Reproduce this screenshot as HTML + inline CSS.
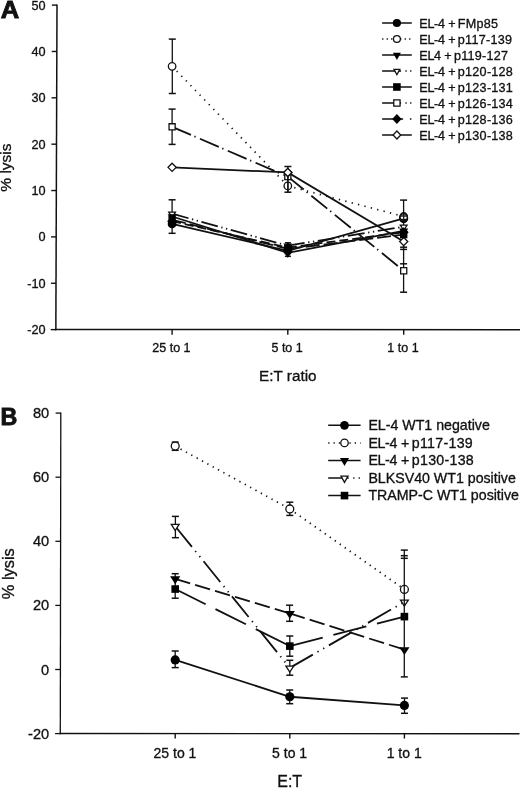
<!DOCTYPE html>
<html><head><meta charset="utf-8"><title>Figure</title>
<style>
html,body{margin:0;padding:0;background:#fff;}
body{width:520px;height:789px;overflow:hidden;}
svg{display:block;filter:grayscale(1);}
svg text{font-family:"Liberation Sans", sans-serif;fill:#111;stroke:#111;stroke-width:0.32px;}
</style></head><body>
<svg width="520" height="789" viewBox="0 0 520 789">
<rect width="520" height="789" fill="#fff"/>
<g stroke="#111" fill="none">
<line x1="57" y1="4.4" x2="55.85" y2="330.3" stroke-width="1.5"/>
<line x1="55.15" y1="329.4" x2="520" y2="329.85" stroke-width="1.5"/>
<line x1="50.75" y1="329.62" x2="55.85" y2="329.62" stroke-width="1.4"/>
<text x="45.5" y="334.02" font-size="12.7" text-anchor="end">-20</text>
<line x1="50.92" y1="283.26" x2="56.02" y2="283.26" stroke-width="1.4"/>
<text x="45.5" y="287.66" font-size="12.7" text-anchor="end">-10</text>
<line x1="51.08" y1="236.9" x2="56.18" y2="236.9" stroke-width="1.4"/>
<text x="45.5" y="241.3" font-size="12.7" text-anchor="end">0</text>
<line x1="51.24" y1="190.54" x2="56.34" y2="190.54" stroke-width="1.4"/>
<text x="45.5" y="194.94" font-size="12.7" text-anchor="end">10</text>
<line x1="51.41" y1="144.18" x2="56.51" y2="144.18" stroke-width="1.4"/>
<text x="45.5" y="148.58" font-size="12.7" text-anchor="end">20</text>
<line x1="51.57" y1="97.82" x2="56.67" y2="97.82" stroke-width="1.4"/>
<text x="45.5" y="102.22" font-size="12.7" text-anchor="end">30</text>
<line x1="51.73" y1="51.46" x2="56.83" y2="51.46" stroke-width="1.4"/>
<text x="45.5" y="55.86" font-size="12.7" text-anchor="end">40</text>
<line x1="51.9" y1="5.1" x2="57" y2="5.1" stroke-width="1.4"/>
<text x="45.5" y="9.5" font-size="12.7" text-anchor="end">50</text>
<line x1="172.1" y1="329.6" x2="172.1" y2="334.7" stroke-width="1.4"/>
<line x1="287.8" y1="329.6" x2="287.8" y2="334.7" stroke-width="1.4"/>
<line x1="403.7" y1="329.6" x2="403.7" y2="334.7" stroke-width="1.4"/>
<text x="171.4" y="351.9" font-size="12.5" text-anchor="middle">25 to 1</text>
<text x="287.1" y="351.9" font-size="12.5" text-anchor="middle">5 to 1</text>
<text x="403" y="351.9" font-size="12.5" text-anchor="middle">1 to 1</text>
<text x="287.8" y="380.7" font-size="15.3" text-anchor="middle">E:T ratio</text>
<text x="11.4" y="167.6" font-size="15.5" text-anchor="middle" transform="rotate(-90 11.4 167.6)">% lysis</text>
<text x="0" y="0" font-size="24.6" font-weight="bold" style="stroke-width:0.9px" transform="translate(0.8 18.3) scale(1.04 1)">A</text>
<line x1="172.1" y1="66.3" x2="287.8" y2="185.9" stroke-width="1.7" stroke-dasharray="1.3 5.3"/>
<line x1="287.8" y1="185.9" x2="403.7" y2="216.5" stroke-width="1.7" stroke-dasharray="1.3 5.3"/>
<line x1="172.1" y1="126.8" x2="287.8" y2="176.63" stroke-width="1.8" stroke-dasharray="20.5 3.8 1.3 4.7"/>
<line x1="287.8" y1="176.63" x2="403.7" y2="270.74" stroke-width="1.8" stroke-dasharray="20.5 3.8 1.3 4.7"/>
<polyline points="172.1,167.36 287.8,172.46 403.7,241.54" fill="none" stroke-width="1.8"/>
<polyline points="172.1,223.92 287.8,250.81 403.7,218.36" fill="none" stroke-width="1.8"/>
<polyline points="172.1,216.5 287.8,252.89 403.7,230.87" fill="none" stroke-width="1.8"/>
<line x1="172.1" y1="213.72" x2="287.8" y2="245.71" stroke-width="1.8" stroke-dasharray="17 3.6 1.3 3.6 1.3 3.6"/>
<line x1="287.8" y1="245.71" x2="403.7" y2="226.7" stroke-width="1.8" stroke-dasharray="17 3.6 1.3 3.6 1.3 3.6"/>
<line x1="172.1" y1="219.75" x2="287.8" y2="248.95" stroke-width="1.8" stroke-dasharray="14 4"/>
<line x1="287.8" y1="248.95" x2="403.7" y2="234.58" stroke-width="1.8" stroke-dasharray="14 4"/>
<line x1="172.1" y1="221.14" x2="287.8" y2="247.56" stroke-width="1.8" stroke-dasharray="9 4"/>
<line x1="287.8" y1="247.56" x2="403.7" y2="232.26" stroke-width="1.8" stroke-dasharray="9 4"/>
<line x1="172.3" y1="39.1" x2="172.3" y2="93.5" stroke-width="1.3"/>
<line x1="168.8" y1="39.1" x2="175.8" y2="39.1" stroke-width="1.5"/>
<line x1="168.8" y1="93.5" x2="175.8" y2="93.5" stroke-width="1.5"/>
<line x1="172.1" y1="109.1" x2="172.1" y2="144.4" stroke-width="1.3"/>
<line x1="168.6" y1="109.1" x2="175.6" y2="109.1" stroke-width="1.5"/>
<line x1="168.6" y1="144.4" x2="175.6" y2="144.4" stroke-width="1.5"/>
<line x1="172.1" y1="199.8" x2="172.1" y2="233.3" stroke-width="1.3"/>
<line x1="168.6" y1="199.8" x2="175.6" y2="199.8" stroke-width="1.5"/>
<line x1="168.6" y1="233.3" x2="175.6" y2="233.3" stroke-width="1.5"/>
<line x1="287.9" y1="242.8" x2="287.9" y2="256.3" stroke-width="1.3"/>
<line x1="284.9" y1="242.8" x2="290.9" y2="242.8" stroke-width="1.5"/>
<line x1="284.9" y1="256.3" x2="290.9" y2="256.3" stroke-width="1.5"/>
<line x1="403.6" y1="200.1" x2="403.6" y2="292.2" stroke-width="1.3"/>
<line x1="400.1" y1="200.1" x2="407.1" y2="200.1" stroke-width="1.5"/>
<line x1="400.1" y1="292.2" x2="407.1" y2="292.2" stroke-width="1.5"/>
<line x1="400.1" y1="247.2" x2="407.1" y2="247.2" stroke-width="1.5"/>
<line x1="400.1" y1="249.4" x2="407.1" y2="249.4" stroke-width="1.5"/>
<line x1="400.1" y1="263.8" x2="407.1" y2="263.8" stroke-width="1.5"/>
<polygon points="169.05,123.75 175.15,123.75 175.15,129.84 169.05,129.84" fill="#fff" stroke-width="1.3" stroke-miterlimit="10"/>
<polygon points="284.75,173.58 290.85,173.58 290.85,179.68 284.75,179.68" fill="#fff" stroke-width="1.3" stroke-miterlimit="10"/>
<polygon points="400.65,267.69 406.75,267.69 406.75,273.79 400.65,273.79" fill="#fff" stroke-width="1.3" stroke-miterlimit="10"/>
<polygon points="172.1,163.28 176.18,167.36 172.1,171.44 168.02,167.36" fill="#fff" stroke-width="1.3" stroke-miterlimit="10"/>
<polygon points="287.8,168.38 291.88,172.46 287.8,176.54 283.72,172.46" fill="#fff" stroke-width="1.3" stroke-miterlimit="10"/>
<polygon points="403.7,237.46 407.78,241.54 403.7,245.62 399.62,241.54" fill="#fff" stroke-width="1.3" stroke-miterlimit="10"/>
<circle cx="172.1" cy="66.3" r="3.75" fill="#fff" stroke-width="1.3"/>
<circle cx="287.8" cy="185.9" r="3.75" fill="#fff" stroke-width="1.3"/>
<circle cx="403.7" cy="216.5" r="3.75" fill="#fff" stroke-width="1.3"/>
<polygon points="168.76,212.08 175.44,212.08 172.1,217.57" fill="#fff" stroke-width="1.3" stroke-miterlimit="10"/>
<polygon points="284.46,244.06 291.14,244.06 287.8,249.56" fill="#fff" stroke-width="1.3" stroke-miterlimit="10"/>
<polygon points="400.36,225.06 407.04,225.06 403.7,230.56" fill="#fff" stroke-width="1.3" stroke-miterlimit="10"/>
<polygon points="172.1,216.14 177.1,221.14 172.1,226.14 167.1,221.14" fill="#000" stroke="none"/>
<polygon points="287.8,242.56 292.8,247.56 287.8,252.56 282.8,247.56" fill="#000" stroke="none"/>
<polygon points="403.7,227.26 408.7,232.26 403.7,237.26 398.7,232.26" fill="#000" stroke="none"/>
<polygon points="168.4,216.05 175.8,216.05 175.8,223.45 168.4,223.45" fill="#000" stroke="none"/>
<polygon points="284.1,245.25 291.5,245.25 291.5,252.65 284.1,252.65" fill="#000" stroke="none"/>
<polygon points="400,230.88 407.4,230.88 407.4,238.28 400,238.28" fill="#000" stroke="none"/>
<polygon points="167.6,214.21 176.6,214.21 172.1,221.61" fill="#000" stroke="none"/>
<polygon points="283.3,250.6 292.3,250.6 287.8,258" fill="#000" stroke="none"/>
<polygon points="399.2,228.58 408.2,228.58 403.7,235.98" fill="#000" stroke="none"/>
<circle cx="172.1" cy="223.92" r="4.4" fill="#000" stroke="none"/>
<circle cx="287.8" cy="250.81" r="4.4" fill="#000" stroke="none"/>
<circle cx="403.7" cy="218.36" r="4.4" fill="#000" stroke="none"/>
<circle cx="403.7" cy="218.6" r="4.4" fill="#000" stroke="none"/>
<circle cx="403.7" cy="217.3" r="3.65" fill="#fff" stroke-width="1.5"/>
<line x1="400.5" y1="216" x2="406.9" y2="216" stroke-width="1.4"/>
<line x1="400.5" y1="219.6" x2="406.9" y2="219.6" stroke-width="1.6"/>
<line x1="403.7" y1="212.5" x2="403.7" y2="222.5" stroke-width="1.2"/>
<line x1="287.9" y1="174.5" x2="287.9" y2="192.2" stroke-width="1.3"/>
<line x1="287.9" y1="166.5" x2="287.9" y2="192.2" stroke-width="1.3"/>
<line x1="284.4" y1="166.5" x2="291.4" y2="166.5" stroke-width="1.5"/>
<line x1="284.4" y1="192.2" x2="291.4" y2="192.2" stroke-width="1.5"/>
<polygon points="287.8,168.38 291.88,172.46 287.8,176.54 283.72,172.46" fill="#fff" stroke-width="1.3" stroke-miterlimit="10"/>
<line x1="382.1" y1="23" x2="411.8" y2="23" stroke-width="1.5"/>
<circle cx="396.9" cy="23" r="4.1" fill="#000" stroke="none"/>
<text x="419.3" y="27.6" font-size="12.6"><tspan letter-spacing="-0.3">EL-4</tspan> + <tspan dx="-1.2" letter-spacing="0.25">FMp85</tspan></text>
<line x1="382.1" y1="39" x2="411.8" y2="39" stroke-width="1.5" stroke-dasharray="1.3 3.2" stroke-dashoffset="0"/>
<circle cx="396.9" cy="39" r="3.45" fill="#fff" stroke-width="1.3"/>
<text x="419.3" y="43.6" font-size="12.6"><tspan letter-spacing="-0.3">EL-4</tspan> + <tspan dx="-1.2" letter-spacing="0.25">p117-139</tspan></text>
<line x1="382.1" y1="55" x2="411.8" y2="55" stroke-width="1.5"/>
<polygon points="392.9,52.71 400.9,52.71 396.9,60.11" fill="#000" stroke="none"/>
<text x="419.3" y="59.6" font-size="12.6"><tspan letter-spacing="-0.3">EL4</tspan> + <tspan dx="-1.2" letter-spacing="0.25">p119-127</tspan></text>
<line x1="382.1" y1="71" x2="411.8" y2="71" stroke-width="1.5" stroke-dasharray="19 4.3 1.3 3.4 1.3 10" stroke-dashoffset="0"/>
<polygon points="393.99,69.36 399.81,69.36 396.9,74.74" fill="#fff" stroke-width="1.3" stroke-miterlimit="10"/>
<text x="419.3" y="75.6" font-size="12.6"><tspan letter-spacing="-0.3">EL-4</tspan> + <tspan dx="-1.2" letter-spacing="0.25">p120-128</tspan></text>
<line x1="382.1" y1="87" x2="411.8" y2="87" stroke-width="1.5"/>
<polygon points="393.1,83.2 400.7,83.2 400.7,90.8 393.1,90.8" fill="#000" stroke="none"/>
<text x="419.3" y="91.6" font-size="12.6"><tspan letter-spacing="-0.3">EL-4</tspan> + <tspan dx="-1.2" letter-spacing="0.25">p123-131</tspan></text>
<line x1="382.1" y1="103" x2="411.8" y2="103" stroke-width="1.5" stroke-dasharray="19 4.3 1.3 3.4 1.3 10" stroke-dashoffset="0"/>
<polygon points="393.75,99.85 400.05,99.85 400.05,106.15 393.75,106.15" fill="#fff" stroke-width="1.3" stroke-miterlimit="10"/>
<text x="419.3" y="107.6" font-size="12.6"><tspan letter-spacing="-0.3">EL-4</tspan> + <tspan dx="-1.2" letter-spacing="0.25">p126-134</tspan></text>
<line x1="382.1" y1="119" x2="411.8" y2="119" stroke-width="1.5" stroke-dasharray="21 6.8 1.5 10" stroke-dashoffset="0"/>
<polygon points="396.9,114 401.6,119 396.9,124 392.2,119" fill="#000" stroke="none"/>
<text x="419.3" y="123.6" font-size="12.6"><tspan letter-spacing="-0.3">EL-4</tspan> + <tspan dx="-1.2" letter-spacing="0.25">p128-136</tspan></text>
<line x1="382.1" y1="135" x2="411.8" y2="135" stroke-width="1.5"/>
<polygon points="396.9,130.95 400.71,135 396.9,139.05 393.09,135" fill="#fff" stroke-width="1.3" stroke-miterlimit="10"/>
<text x="419.3" y="139.6" font-size="12.6"><tspan letter-spacing="-0.3">EL-4</tspan> + <tspan dx="-1.2" letter-spacing="0.25">p130-138</tspan></text>
<line x1="60.8" y1="412.5" x2="60.3" y2="734.3" stroke-width="1.3"/>
<line x1="59.7" y1="733.55" x2="519.5" y2="733.8" stroke-width="1.4"/>
<line x1="55.1" y1="733.6" x2="60.3" y2="733.6" stroke-width="1.3"/>
<text x="49.2" y="738.6" font-size="14.6" text-anchor="end">-20</text>
<line x1="55.2" y1="669.5" x2="60.4" y2="669.5" stroke-width="1.3"/>
<text x="49.2" y="674.5" font-size="14.6" text-anchor="end">0</text>
<line x1="55.3" y1="605.4" x2="60.5" y2="605.4" stroke-width="1.3"/>
<text x="49.2" y="610.4" font-size="14.6" text-anchor="end">20</text>
<line x1="55.4" y1="541.3" x2="60.6" y2="541.3" stroke-width="1.3"/>
<text x="49.2" y="546.3" font-size="14.6" text-anchor="end">40</text>
<line x1="55.5" y1="477.2" x2="60.7" y2="477.2" stroke-width="1.3"/>
<text x="49.2" y="482.2" font-size="14.6" text-anchor="end">60</text>
<line x1="55.6" y1="413.1" x2="60.8" y2="413.1" stroke-width="1.3"/>
<text x="49.2" y="418.1" font-size="14.6" text-anchor="end">80</text>
<line x1="175.2" y1="733.7" x2="175.2" y2="738.5" stroke-width="1.4"/>
<line x1="289.8" y1="733.7" x2="289.8" y2="738.5" stroke-width="1.4"/>
<line x1="404.4" y1="733.7" x2="404.4" y2="738.5" stroke-width="1.4"/>
<text x="175" y="757.8" font-size="14" text-anchor="middle">25 to 1</text>
<text x="289.6" y="757.8" font-size="14" text-anchor="middle">5 to 1</text>
<text x="404.2" y="757.8" font-size="14" text-anchor="middle">1 to 1</text>
<text x="289.7" y="787" font-size="16" text-anchor="middle">E:T</text>
<text x="13.9" y="573.7" font-size="16.4" text-anchor="middle" transform="rotate(-90 13.9 573.7)">% lysis</text>
<text x="0" y="0" font-size="24" font-weight="bold" style="stroke-width:0.9px" transform="translate(0.5 425.2) scale(0.97 1)">B</text>
<polyline points="175.2,659.88 289.8,696.74 404.4,705.4" fill="none" stroke-width="1.8"/>
<line x1="175.2" y1="446.11" x2="289.8" y2="508.93" stroke-width="1.7" stroke-dasharray="1.3 4.8"/>
<line x1="289.8" y1="508.93" x2="404.4" y2="589.38" stroke-width="1.7" stroke-dasharray="1.3 4.8"/>
<line x1="175.2" y1="578.8" x2="289.8" y2="613.41" stroke-width="1.8" stroke-dasharray="15.6 5.2"/>
<line x1="289.8" y1="613.41" x2="404.4" y2="649.63" stroke-width="1.8" stroke-dasharray="15.6 5.2"/>
<line x1="175.2" y1="526.24" x2="289.8" y2="667.9" stroke-width="1.8" stroke-dasharray="26.6 5.3 1.3 5.3 1.3 5.3"/>
<line x1="289.8" y1="667.9" x2="404.4" y2="601.87" stroke-width="1.8" stroke-dasharray="26.6 5.3 1.3 5.3 1.3 5.3"/>
<line x1="175.2" y1="589.05" x2="289.8" y2="646.1" stroke-width="1.8" stroke-dasharray="34 11"/>
<line x1="289.8" y1="646.1" x2="404.4" y2="616.62" stroke-width="1.8" stroke-dasharray="34 11"/>
<line x1="175.2" y1="442.1" x2="175.2" y2="450.3" stroke-width="1.3"/>
<line x1="171.7" y1="442.1" x2="178.7" y2="442.1" stroke-width="1.5"/>
<line x1="171.7" y1="450.3" x2="178.7" y2="450.3" stroke-width="1.5"/>
<line x1="175.4" y1="516.4" x2="175.4" y2="537.7" stroke-width="1.3"/>
<line x1="171.9" y1="516.4" x2="178.9" y2="516.4" stroke-width="1.5"/>
<line x1="171.9" y1="537.7" x2="178.9" y2="537.7" stroke-width="1.5"/>
<line x1="175.2" y1="573.7" x2="175.2" y2="598.2" stroke-width="1.3"/>
<line x1="171.7" y1="573.7" x2="178.7" y2="573.7" stroke-width="1.5"/>
<line x1="171.7" y1="598.2" x2="178.7" y2="598.2" stroke-width="1.5"/>
<line x1="175.2" y1="651" x2="175.2" y2="667.6" stroke-width="1.3"/>
<line x1="171.7" y1="651" x2="178.7" y2="651" stroke-width="1.5"/>
<line x1="171.7" y1="667.6" x2="178.7" y2="667.6" stroke-width="1.5"/>
<line x1="289.8" y1="502.2" x2="289.8" y2="515.4" stroke-width="1.3"/>
<line x1="286.3" y1="502.2" x2="293.3" y2="502.2" stroke-width="1.5"/>
<line x1="286.3" y1="515.4" x2="293.3" y2="515.4" stroke-width="1.5"/>
<line x1="289.6" y1="605.2" x2="289.6" y2="621.3" stroke-width="1.3"/>
<line x1="286.1" y1="605.2" x2="293.1" y2="605.2" stroke-width="1.5"/>
<line x1="286.1" y1="621.3" x2="293.1" y2="621.3" stroke-width="1.5"/>
<line x1="289.8" y1="636" x2="289.8" y2="656.2" stroke-width="1.3"/>
<line x1="286.3" y1="636" x2="293.3" y2="636" stroke-width="1.5"/>
<line x1="286.3" y1="656.2" x2="293.3" y2="656.2" stroke-width="1.5"/>
<line x1="289.8" y1="660.3" x2="289.8" y2="675.2" stroke-width="1.3"/>
<line x1="286.3" y1="660.3" x2="293.3" y2="660.3" stroke-width="1.5"/>
<line x1="286.3" y1="675.2" x2="293.3" y2="675.2" stroke-width="1.5"/>
<line x1="289.7" y1="690" x2="289.7" y2="703.7" stroke-width="1.3"/>
<line x1="286.2" y1="690" x2="293.2" y2="690" stroke-width="1.5"/>
<line x1="286.2" y1="703.7" x2="293.2" y2="703.7" stroke-width="1.5"/>
<line x1="404.5" y1="698.1" x2="404.5" y2="713.3" stroke-width="1.3"/>
<line x1="401" y1="698.1" x2="408" y2="698.1" stroke-width="1.5"/>
<line x1="401" y1="713.3" x2="408" y2="713.3" stroke-width="1.5"/>
<circle cx="175.2" cy="659.88" r="4.6" fill="#000" stroke="none"/>
<circle cx="289.8" cy="696.74" r="4.6" fill="#000" stroke="none"/>
<circle cx="404.4" cy="705.4" r="4.6" fill="#000" stroke="none"/>
<circle cx="175.2" cy="446.11" r="3.95" fill="#fff" stroke-width="1.3"/>
<circle cx="289.8" cy="508.93" r="3.95" fill="#fff" stroke-width="1.3"/>
<circle cx="404.4" cy="589.38" r="3.95" fill="#fff" stroke-width="1.3"/>
<polygon points="171.29,524.44 179.11,524.44 175.2,530.49" fill="#fff" stroke-width="1.3" stroke-miterlimit="10"/>
<polygon points="285.89,666.1 293.71,666.1 289.8,672.15" fill="#fff" stroke-width="1.3" stroke-miterlimit="10"/>
<polygon points="400.49,600.08 408.31,600.08 404.4,606.13" fill="#fff" stroke-width="1.3" stroke-miterlimit="10"/>
<polygon points="170.1,576.35 180.3,576.35 175.2,584.25" fill="#000" stroke="none"/>
<polygon points="284.7,610.96 294.9,610.96 289.8,618.86" fill="#000" stroke="none"/>
<polygon points="399.3,647.18 409.5,647.18 404.4,655.08" fill="#000" stroke="none"/>
<polygon points="171.4,585.25 179,585.25 179,592.85 171.4,592.85" fill="#000" stroke="none"/>
<polygon points="286,642.3 293.6,642.3 293.6,649.9 286,649.9" fill="#000" stroke="none"/>
<polygon points="400.6,612.82 408.2,612.82 408.2,620.42 400.6,620.42" fill="#000" stroke="none"/>
<line x1="404.3" y1="550.1" x2="404.3" y2="676.9" stroke-width="1.3"/>
<line x1="400.8" y1="550.1" x2="407.8" y2="550.1" stroke-width="1.5"/>
<line x1="400.8" y1="676.9" x2="407.8" y2="676.9" stroke-width="1.5"/>
<line x1="400.8" y1="555.7" x2="407.8" y2="555.7" stroke-width="1.5"/>
<line x1="400.8" y1="558.3" x2="407.8" y2="558.3" stroke-width="1.5"/>
<line x1="328.2" y1="425.3" x2="360.6" y2="425.3" stroke-width="1.5"/>
<circle cx="344.5" cy="425.3" r="4.4" fill="#000" stroke="none"/>
<text x="368.4" y="430" font-size="14.2">EL-4 WT1 negative</text>
<line x1="328.2" y1="442.88" x2="360.6" y2="442.88" stroke-width="1.5" stroke-dasharray="1.3 4.0" stroke-dashoffset="0"/>
<circle cx="344.5" cy="442.88" r="3.75" fill="#fff" stroke-width="1.3"/>
<text x="368.4" y="447.57" font-size="14.2"><tspan letter-spacing="-0.34">EL-4</tspan> + <tspan dx="-1.35" letter-spacing="0.28">p117-139</tspan></text>
<line x1="328.2" y1="460.45" x2="360.6" y2="460.45" stroke-width="1.5"/>
<polygon points="339.9,457.91 349.1,457.91 344.5,466.11" fill="#000" stroke="none"/>
<text x="368.4" y="465.15" font-size="14.2"><tspan letter-spacing="-0.34">EL-4</tspan> + <tspan dx="-1.35" letter-spacing="0.28">p130-138</tspan></text>
<line x1="328.2" y1="478.02" x2="360.6" y2="478.02" stroke-width="1.5" stroke-dasharray="20.5 4.5 1.3 4.1 1.3 10" stroke-dashoffset="0"/>
<polygon points="341.01,476.13 347.99,476.13 344.5,482.35" fill="#fff" stroke-width="1.3" stroke-miterlimit="10"/>
<text x="368.4" y="482.72" font-size="14.2">BLKSV40 WT1 positive</text>
<line x1="328.2" y1="495.6" x2="360.6" y2="495.6" stroke-width="1.5"/>
<polygon points="340.7,491.8 348.3,491.8 348.3,499.4 340.7,499.4" fill="#000" stroke="none"/>
<text x="368.4" y="500.3" font-size="14.2">TRAMP-C WT1 positive</text>
</g>
</svg>
</body></html>
